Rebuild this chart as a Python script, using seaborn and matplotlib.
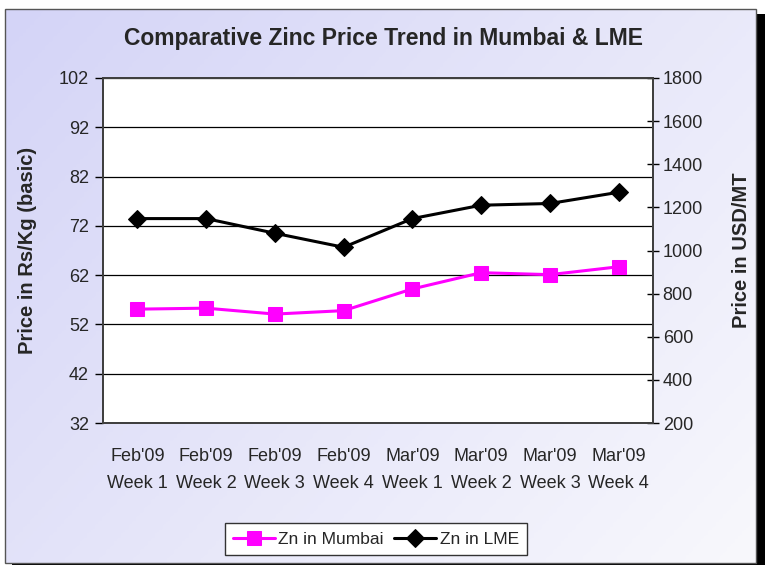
import numpy as np
import pandas as pd
import matplotlib
matplotlib.use("Agg")
import matplotlib.pyplot as plt
from matplotlib.patches import Rectangle
from matplotlib.colors import LinearSegmentedColormap
import seaborn as sns

# ── Data ─────────────────────────────────────────────────────────────────────
weeks = ["Feb'09\nWeek 1", "Feb'09\nWeek 2", "Feb'09\nWeek 3", "Feb'09\nWeek 4",
         "Mar'09\nWeek 1", "Mar'09\nWeek 2", "Mar'09\nWeek 3", "Mar'09\nWeek 4"]
zn_mumbai = [55.1, 55.3, 54.1, 54.8, 59.2, 62.5, 62.1, 63.7]      # Rs/Kg
zn_lme = [1148, 1148, 1080, 1015, 1148, 1210, 1218, 1270]          # USD/MT
left_ticks = [32, 42, 52, 62, 72, 82, 92, 102]
right_ticks = [200, 400, 600, 800, 1000, 1200, 1400, 1600, 1800]

df = pd.DataFrame({'pos': np.arange(len(weeks)), 'week': weeks,
                   'mumbai': zn_mumbai, 'lme': zn_lme})

# ── Style ─────────────────────────────────────────────────────────────────────
sns.set_theme(style='white')
plt.rcParams['font.family'] = ['Liberation Sans', 'DejaVu Sans']

W, H = 765, 565
fig = plt.figure(figsize=(W / 100, H / 100), dpi=100, facecolor='white')

# chart-area background: drop shadow, lavender gradient, thin border
bg = fig.add_axes([0, 0, 1, 1], zorder=-10)
bg.set_axis_off()
bg.set_xlim(0, W)
bg.set_ylim(H, 0)
bg.add_patch(Rectangle((12, 14), W - 9, H, facecolor='black', edgecolor='none', zorder=1))
gx, gy = np.meshgrid(np.linspace(0, 1, 200), np.linspace(0, 1, 200))
grad = 0.6 * gx + 0.4 * gy
cmap = LinearSegmentedColormap.from_list('lav', ['#d4d4f7', '#f8f8fc'])
bg.imshow(grad, cmap=cmap, extent=[5, 756, 563, 9], aspect='auto', zorder=2)
bg.add_patch(Rectangle((5, 9), 751, 554, facecolor='none', edgecolor='#555555', lw=1.0, zorder=3))
bg.set_xlim(0, W)
bg.set_ylim(H, 0)

ax = fig.add_axes([103 / W, 1 - 423 / H, 550 / W, 345 / H])
ax.set_facecolor('white')
ax2 = ax.twinx()

sns.lineplot(data=df, x='pos', y='mumbai', ax=ax, color='#ff00ff', lw=2.2,
             marker='s', markersize=9.5, markeredgecolor='#ff00ff',
             label='Zn in Mumbai', legend=False, zorder=3)
sns.lineplot(data=df, x='pos', y='lme', ax=ax2, color='black', lw=2.2,
             marker='D', markersize=9, markeredgecolor='black',
             label='Zn in LME', legend=False, zorder=3)

# axes limits / ticks
ax.set_xlim(-0.5, len(weeks) - 0.5)
ax.set_ylim(32, 102)
ax.set_yticks(left_ticks)
ax.set_xticks(df['pos'])
ax.set_xticklabels(weeks, fontsize=13, linespacing=1.75)
ax.set_xticks(np.arange(-0.5, len(weeks), 1), minor=True)
ax.tick_params(axis='x', which='major', length=0, pad=18)
ax.tick_params(axis='x', which='minor', length=6, width=1, color='black', direction='out')
ax.tick_params(axis='y', length=6, width=1, color='black', direction='out', labelsize=13, pad=4)
ax.yaxis.grid(True, color='black', lw=0.9)
ax.set_axisbelow(True)

ax2.set_ylim(200, 1800)
ax2.set_yticks(right_ticks)
ax2.tick_params(axis='y', length=8, width=1, color='black', direction='inout', labelsize=13, pad=3)
ax2.grid(False)

ax.set_xlabel('')
ax.set_ylabel('Price in Rs/Kg (basic)', fontsize=14.5, fontweight='bold', labelpad=16)
ax2.set_ylabel('Price in USD/MT', fontsize=14.5, fontweight='bold', labelpad=21)

for a in (ax, ax2):
    for s in a.spines.values():
        s.set_color('#404040')
        s.set_linewidth(1.4)

fig.text(383 / W, 1 - 38 / H, 'Comparative Zinc Price Trend in Mumbai & LME',
         ha='center', va='center', fontsize=16.5, fontweight='bold')

h1, l1 = ax.get_legend_handles_labels()
h2, l2 = ax2.get_legend_handles_labels()
leg = fig.legend(h1 + h2, l1 + l2, loc='center', bbox_to_anchor=(376 / W, 1 - 539 / H),
                 ncol=2, fontsize=12.5, frameon=True, fancybox=False, framealpha=1,
                 edgecolor='#333333', handlelength=2.4, handletextpad=0.2,
                 columnspacing=0.6, borderpad=0.5)
leg.get_frame().set_linewidth(1.0)

fig.savefig('out.png', dpi=100)
